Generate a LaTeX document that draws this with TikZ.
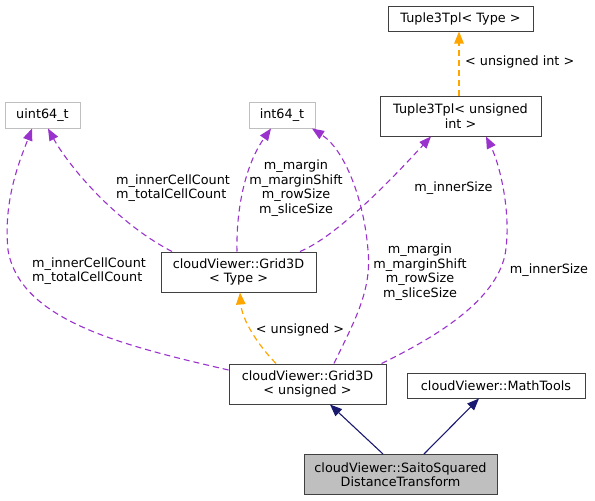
\documentclass[tikz,border=0pt]{standalone}
\usepackage{fontspec}
\setmainfont{DejaVu Sans}
\usetikzlibrary{arrows.meta}
\definecolor{purp}{HTML}{9A32CD}
\definecolor{orng}{HTML}{FFA500}
\definecolor{navy}{HTML}{191970}
\definecolor{edgegray}{HTML}{BFBFBF}
\definecolor{fillgray}{HTML}{BFBFBF}
\tikzset{
  box/.style={draw=black!75, line width=1pt, rectangle, align=center, inner sep=0pt, font=\fontsize{12.8}{14.5}\selectfont},
  graybox/.style={box, draw=edgegray},
  lbl/.style={inner sep=0pt, font=\fontsize{12.8}{14.5}\selectfont},
  tip/.style={-{Triangle[length=12pt,width=9.5pt]}},
  use/.style={draw=purp, line width=1.1pt, dash pattern=on 6pt off 4pt, tip},
  tmpl/.style={draw=orng, line width=1.2pt, dash pattern=on 6pt off 4pt, tip},
  inh/.style={draw=navy, line width=1.1pt, tip}
}
\begin{document}
\begin{tikzpicture}[x=1pt,y=-1pt]
\useasboundingbox (0,0) rectangle (595,501);
% nodes
\node[box, minimum width=145pt, minimum height=25pt] (t3type) at (460.5,18.5) {Tuple3Tpl< Type >};
\node[box, minimum width=161pt, minimum height=40pt] (t3uint) at (460.5,116) {Tuple3Tpl< unsigned\\ int >};
\node[graybox, minimum width=75pt, minimum height=26pt] (uint64) at (42.5,115) {uint64\_t};
\node[graybox, minimum width=66pt, minimum height=26pt] (int64) at (282,115) {int64\_t};
\node[box, minimum width=155pt, minimum height=40pt] (g3type) at (238.5,272) {cloudViewer::Grid3D\\< Type >};
\node[box, minimum width=157pt, minimum height=40pt] (g3uns) at (307.5,384) {cloudViewer::Grid3D\\< unsigned >};
\node[box, minimum width=178pt, minimum height=25pt] (math) at (496,385.5) {cloudViewer::MathTools};
\node[box, fill=fillgray, minimum width=193pt, minimum height=40pt] (saito) at (400.5,474.5) {cloudViewer::SaitoSquared\\DistanceTransform};
% usage edges
\draw[use] ([xshift=-66.5pt]g3type.north) .. controls (115,222) and (68,165) .. ([xshift=5.5pt]uint64.south);
\draw[use] ([yshift=14pt]g3uns.west) .. controls (120,345) and (20,320) .. (8,250) .. controls (3,200) and (20,160) .. ([xshift=-10.5pt]uint64.south);
\draw[use] ([xshift=-1.5pt]g3type.north) .. controls (236,210) and (245,165) .. ([xshift=-11pt]int64.south);
\draw[use] ([xshift=61.5pt]g3type.north) .. controls (340,235) and (400,170) .. ([xshift=-29.5pt]t3uint.south);
\draw[use] ([xshift=26.5pt]g3uns.north) .. controls (355,320) and (372,290) .. (368,250) .. controls (364,200) and (345,150) .. ([xshift=30pt]int64.south);
\draw[use] ([xshift=-5pt]g3uns.north east) .. controls (440,335) and (495,300) .. (505,255) .. controls (512,215) and (500,165) .. ([xshift=25.5pt]t3uint.south);
% template edges
\draw[tmpl] ([xshift=-31.5pt]g3uns.north) .. controls (258,345) and (242,320) .. ([xshift=1.5pt]g3type.south);
\draw[tmpl] ([xshift=-1.5pt]t3uint.north) -- ([xshift=-1.5pt]t3type.south);
% inheritance
\draw[inh] ([xshift=-17.5pt]saito.north) -- ([xshift=22.5pt]g3uns.south);
\draw[inh] ([xshift=23.5pt]saito.north) -- ([xshift=-17pt]math.south);
% labels
\node[lbl, anchor=west, align=left] (l1) at (116,188) {m\_innerCellCount\\m\_totalCellCount};
\node[lbl, anchor=west, align=left] (l2) at (32,271) {m\_innerCellCount\\m\_totalCellCount};
\node[lbl, align=center] (l3) at (296,188) {m\_margin\\m\_marginShift\\m\_rowSize\\m\_sliceSize};
\node[lbl] (l4) at (453.5,188) {m\_innerSize};
\node[lbl, align=center] (l5) at (420,272) {m\_margin\\m\_marginShift\\m\_rowSize\\m\_sliceSize};
\node[lbl] (l6) at (549,270) {m\_innerSize};
\node[lbl] (l7) at (300,330) {< unsigned >};
\node[lbl, anchor=west] (l8) at (465,62) {< unsigned int >};
\end{tikzpicture}
\end{document}
